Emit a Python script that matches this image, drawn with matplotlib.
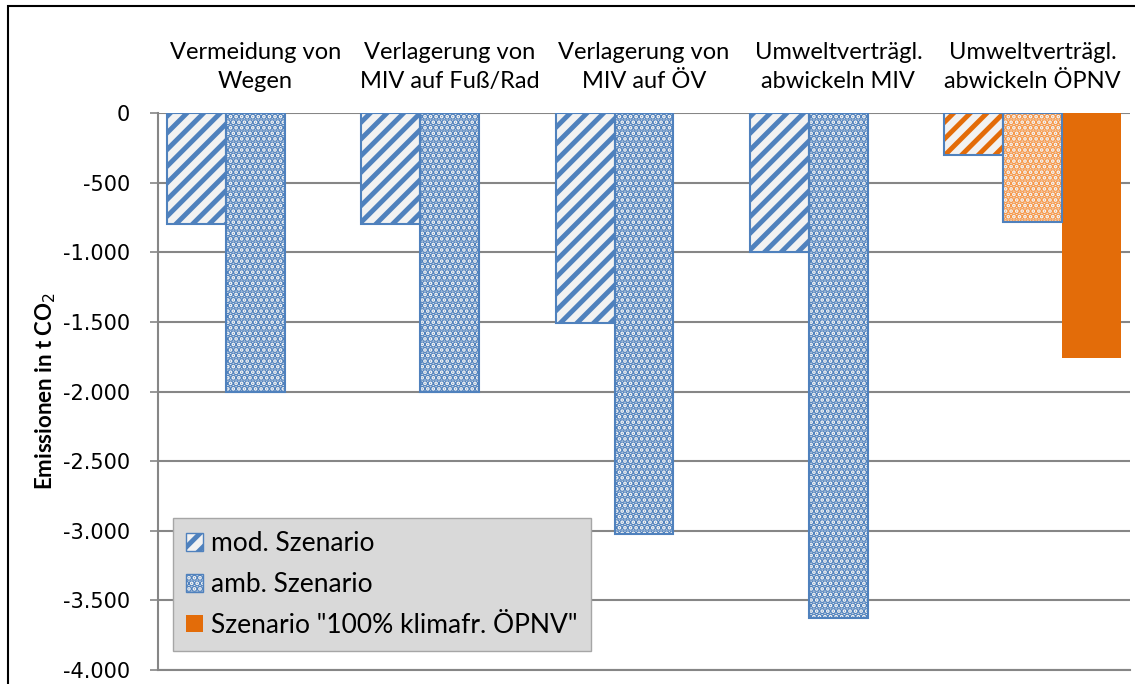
import matplotlib.pyplot as plt
import matplotlib.ticker as mticker
from matplotlib.patches import Rectangle, Patch
import numpy as np

# --- Datos ---
kategorien = ["Vermeidung von\nWegen", "Verlagerung von\nMIV auf Fuß/Rad",
              "Verlagerung von\nMIV auf ÖV", "Umweltverträgl.\nabwickeln MIV",
              "Umweltverträgl.\nabwickeln ÖPNV"]
mod_szenario = [-800, -800, -1510, -1000, -300]
amb_szenario = [-2000, -2000, -3020, -3630, -780]
klimafrei_kat = ["Umweltverträgl.\nabwickeln ÖPNV"]
klimafrei = [-1760]

blau = "#4F81BD"
orange = "#E36C09"
orange_hell = "#F79646"
hatch_bg = "#F2F2F2"

plt.rcParams['font.family'] = ['Lato', 'DejaVu Sans']
plt.rcParams['hatch.linewidth'] = 3.5

fig = plt.figure(figsize=(11.35, 6.84), dpi=100)
ax = fig.add_axes([158 / 1135, 14 / 684, 972 / 1135, 557 / 684])

x = np.arange(len(kategorien))
w = 0.303
# Farbe je Kategorie (letzte Kategorie orange)
farbe_mod = [blau] * 4 + [orange]
farbe_amb = [blau] * 4 + [orange_hell]

for i in range(len(kategorien)):
    ax.bar(x[i] - w, mod_szenario[i], w, color=hatch_bg, edgecolor=farbe_mod[i],
           hatch="//", linewidth=0, zorder=3)
    ax.bar(x[i] - w, mod_szenario[i], w, fill=False, edgecolor=blau, linewidth=1.5, zorder=4)
    ax.bar(x[i], amb_szenario[i], w, color=hatch_bg, edgecolor=farbe_amb[i],
           hatch="...", linewidth=0, zorder=3)
    ax.bar(x[i], amb_szenario[i], w, fill=False, edgecolor=blau, linewidth=1.5, zorder=4)

idx = [kategorien.index(k) for k in klimafrei_kat]
ax.bar(x[idx] + w, klimafrei, w, color=orange, linewidth=0, zorder=3)

ax.set_xlim(-0.5, len(kategorien) - 0.5)
ax.set_ylim(-4000, 0)
ax.set_yticks(np.arange(-4000, 1, 500))
ax.yaxis.set_major_formatter(mticker.FuncFormatter(lambda v, p: f"{int(v):,}".replace(",", ".")))
ax.grid(axis="y", color="#868686", linewidth=1.5, zorder=0)
ax.set_axisbelow(True)

ax.xaxis.tick_top()
ax.set_xticks(x)
ax.set_xticklabels(kategorien, fontsize=17, linespacing=1.5)
ax.tick_params(axis="x", length=0, pad=15)
ax.tick_params(axis="y", length=6, width=1.2, color="#868686", pad=14)
for t in ax.get_yticklabels():
    t.set_family("DejaVu Sans")
    t.set_fontsize(15)

for s in ["top", "right"]:
    ax.spines[s].set_visible(False)
ax.spines["left"].set_color("#868686")
ax.spines["left"].set_linewidth(1.5)
ax.spines["bottom"].set_color("#868686")
ax.spines["bottom"].set_linewidth(1.5)

ax.set_ylabel("Emissionen in t CO$_2$", fontsize=16, fontweight="bold", labelpad=4)

handles = [
    Patch(facecolor=hatch_bg, edgecolor=blau, hatch="//", linewidth=1, label="mod. Szenario"),
    Patch(facecolor=hatch_bg, edgecolor=blau, hatch="...", linewidth=1, label="amb. Szenario"),
    Patch(facecolor=orange, edgecolor="none", label='Szenario "100% klimafr. ÖPNV"'),
]
leg = ax.legend(handles=handles, loc="lower left", bbox_to_anchor=(0.0154, 0.034),
                fontsize=19, fancybox=False, framealpha=1, facecolor="#D9D9D9",
                edgecolor="#A6A6A6", handlelength=0.65, handleheight=0.65,
                handletextpad=0.3, labelspacing=0.6, borderpad=0.5, borderaxespad=0)
leg.set_zorder(5)

# äußerer Rahmen
fig.patches.append(Rectangle((8 / 1135, -0.1), 1.2, 1.1 - 6 / 684, transform=fig.transFigure,
                             fill=False, edgecolor="black", linewidth=1.5))

plt.savefig("out.png", dpi=100)
